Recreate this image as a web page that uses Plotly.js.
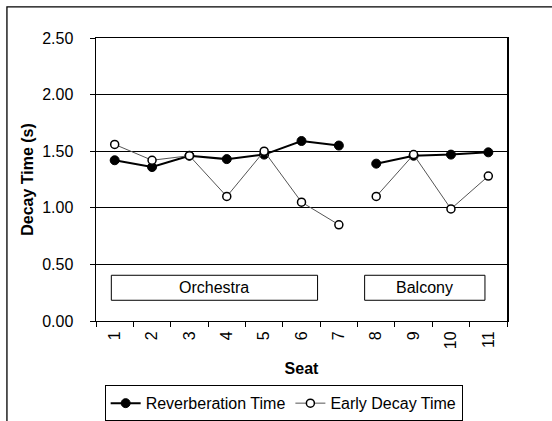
<!DOCTYPE html>
<html>
<head>
<meta charset="utf-8">
<script src="https://cdn.plot.ly/plotly-3.0.1.min.js"></script>
<style>html,body{margin:0;padding:0;background:#fff;}#chart{width:552px;height:421px;}</style>
</head>
<body>
<div id="chart"></div>
<script>
// Data
var seats = ['1','2','3','4','5','6','7','8','9','10','11'];
var reverberationTime = [1.42, 1.36, 1.46, 1.43, 1.47, 1.59, 1.55, 1.39, 1.46, 1.47, 1.49];
var earlyDecayTime   = [1.56, 1.42, 1.46, 1.10, 1.50, 1.05, 0.85, 1.10, 1.47, 0.99, 1.28];
var sectionNames = ['Orchestra', 'Balcony'];
var sectionSeats = [['1','2','3','4','5','6','7'], ['8','9','10','11']];
var seriesNames = ['Reverberation Time', 'Early Decay Time'];

var FONT = 'Liberation Sans, Arial, sans-serif';

function pick(vals, group) {
  return group.map(function (s) { return vals[seats.indexOf(s)]; });
}

var traces = [];
sectionSeats.forEach(function (group, gi) {
  traces.push({
    x: group, y: pick(reverberationTime, group), type: 'scatter', mode: 'lines+markers',
    name: seriesNames[0], legendgroup: 'rt', showlegend: gi === 0,
    line: {color: '#000', width: 2},
    marker: {symbol: 'circle', size: 9, color: '#000', line: {color: '#000', width: 1}}
  });
});
sectionSeats.forEach(function (group, gi) {
  traces.push({
    x: group, y: pick(earlyDecayTime, group), type: 'scatter', mode: 'lines+markers',
    name: seriesNames[1], legendgroup: 'edt', showlegend: gi === 0,
    line: {color: '#555', width: 1},
    marker: {symbol: 'circle', size: 8, color: '#fff', line: {color: '#000', width: 1.5}}
  });
});

// section label boxes (in category index units)
var boxes = [[-0.09, 5.43], [6.69, 9.91]];
var shapes = [
  {type: 'rect', xref: 'paper', yref: 'paper', x0: -0.2167, x1: 1.3, y0: -0.5, y1: 1.1097,
   line: {color: '#000', width: 1.3}, fillcolor: 'rgba(0,0,0,0)', layer: 'below'}
];
var annotations = [];
boxes.forEach(function (b, i) {
  shapes.push({type: 'rect', xref: 'x', yref: 'y', x0: b[0], x1: b[1], y0: 0.183, y1: 0.404,
    line: {color: '#000', width: 1}, fillcolor: '#fff'});
  annotations.push({xref: 'x', yref: 'y', x: (b[0] + b[1]) / 2, y: 0.2935, text: sectionNames[i],
    showarrow: false, font: {family: FONT, size: 16, color: '#000'}});
});

var layout = {
  width: 552, height: 421,
  margin: {l: 96, r: 45.3, t: 38, b: 100.3, autoexpand: false},
  paper_bgcolor: '#fff', plot_bgcolor: '#fff',
  font: {family: FONT, size: 16, color: '#000'},
  showlegend: true,
  legend: {
    orientation: 'h', x: 0.4566, xanchor: 'center', y: -0.227, yanchor: 'top',
    bordercolor: '#000', borderwidth: 1, bgcolor: '#fff',
    font: {family: FONT, size: 16, color: '#000'},
    traceorder: 'normal', itemwidth: 30, tracegroupgap: 0
  },
  xaxis: {
    type: 'category', categoryorder: 'array', categoryarray: seats,
    range: [-0.5, 10.5], tickangle: -90, automargin: false,
    ticks: 'outside', tickson: 'boundaries', ticklen: 5, tickcolor: '#000', tickwidth: 1,
    showline: true, linecolor: '#000', linewidth: 1, mirror: true,
    showgrid: false, zeroline: false, ticklabelstandoff: 3,
    tickfont: {family: FONT, size: 16, color: '#000'},
    title: {text: '<b>Seat</b>', font: {family: FONT, size: 16, color: '#000'}, standoff: 14}
  },
  yaxis: {
    range: [0, 2.5], dtick: 0.5, tick0: 0, tickformat: '.2f', automargin: false,
    ticks: 'outside', ticklen: 5, tickcolor: '#000', tickwidth: 1,
    showline: true, linecolor: '#000', linewidth: 1.5, mirror: true,
    showgrid: true, gridcolor: '#000', gridwidth: 1, zeroline: false,
    ticklabelstandoff: 13,
    tickfont: {family: FONT, size: 16, color: '#000'},
    title: {text: '<b>Decay Time (s)</b>', font: {family: FONT, size: 16, color: '#000'}, standoff: 4}
  },
  shapes: shapes,
  annotations: annotations
};

Plotly.newPlot('chart', traces, layout, {displayModeBar: false, staticPlot: true});
</script>
</body>
</html>
